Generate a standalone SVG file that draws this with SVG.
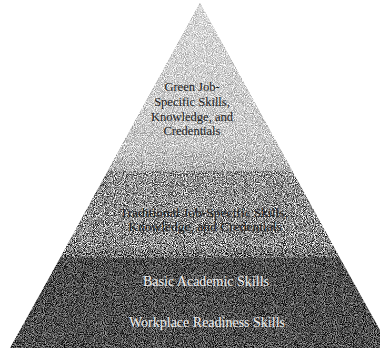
<svg xmlns="http://www.w3.org/2000/svg" width="380" height="348" viewBox="0 0 380 348">
<defs>
<filter id="grain" x="0" y="0" width="1" height="1" color-interpolation-filters="sRGB">
<feTurbulence type="fractalNoise" baseFrequency="1.1" numOctaves="1" seed="4" result="t"/>
<feColorMatrix in="t" type="matrix" values="2.6 0 0 0 -0.8  2.6 0 0 0 -0.8  2.6 0 0 0 -0.8  0 0 0 0 1" result="n"/>
<feBlend in="n" in2="SourceGraphic" mode="overlay" result="b"/>
<feComposite in="b" in2="SourceGraphic" operator="in"/>
</filter>
<linearGradient id="topG" x1="0" y1="0" x2="0" y2="1">
<stop offset="0" stop-color="#d8d8d8"/>
<stop offset="0.85" stop-color="#c6c6c6"/>
<stop offset="1" stop-color="#b0b0b0"/>
</linearGradient>
<linearGradient id="midG" x1="0" y1="0" x2="0" y2="1">
<stop offset="0" stop-color="#929292"/>
<stop offset="0.85" stop-color="#888888"/>
<stop offset="1" stop-color="#6a6a6a"/>
</linearGradient>
</defs>
<style>
.lbl{font-family:"Liberation Serif","Times New Roman",serif;text-anchor:middle}
.s1{font-size:12.5px}
.s2{font-size:13.5px}
.s3{font-size:14px}
.dk{fill:#1a1a1a}
.lt{fill:#f0f0f0}
</style>
<rect width="380" height="348" fill="#ffffff"/>
<g id="tier-green">
<polygon points="200,3 292.4,171 107.6,171" fill="url(#topG)" filter="url(#grain)"/>
<text class="lbl s1 dk" x="192" y="91">Green Job-</text>
<text class="lbl s1 dk" x="192" y="106">Specific Skills,</text>
<text class="lbl s1 dk" x="192" y="121">Knowledge, and</text>
<text class="lbl s1 dk" x="192" y="135">Credentials</text>
</g>
<g id="tier-traditional">
<polygon points="107.6,171 292.4,171 340,258 60,258" fill="url(#midG)" filter="url(#grain)"/>
<text class="lbl s2 dk" x="204" y="217">Traditional Job-Specific Skills,</text>
<text class="lbl s2 dk" x="205" y="231">Knowledge, and Credentials</text>
</g>
<g id="tier-basic">
<polygon points="60,258 340,258 390,348 10,348" fill="#4e4e4e" filter="url(#grain)"/>
<text class="lbl s3 lt" x="206" y="286">Basic Academic Skills</text>
<text class="lbl s3 lt" x="207" y="327">Workplace Readiness Skills</text>
</g>
<g id="connectors"/>
</svg>
